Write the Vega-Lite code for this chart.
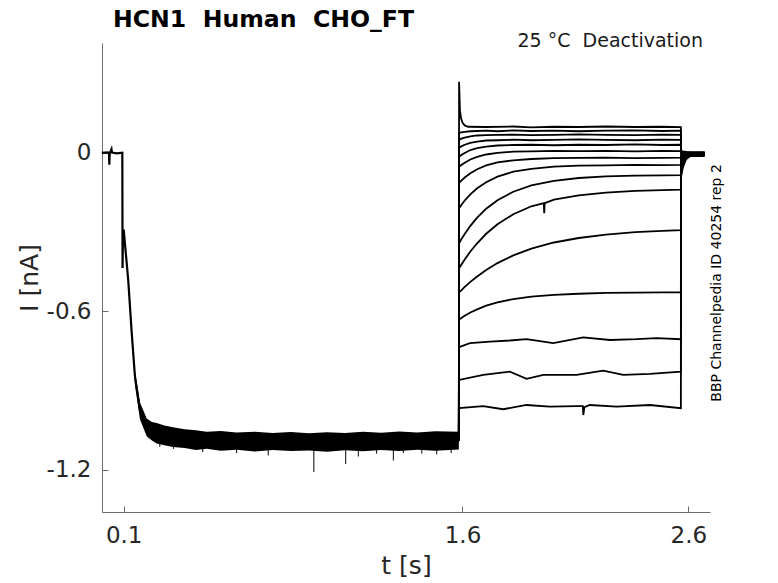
{
  "$schema": "https://vega.github.io/schema/vega-lite/v6.json",
  "width": 608,
  "height": 469,
  "autosize": {"type": "none"},
  "padding": {"left": 102, "top": 43, "right": 68, "bottom": 71},
  "background": "white",
  "title": {
    "text": "HCN1\u00a0\u00a0Human\u00a0\u00a0CHO_FT",
    "anchor": "start",
    "frame": "group",
    "dx": 11,
    "dy": 25,
    "offset": 6,
    "baseline": "alphabetic",
    "font": "DejaVu Sans",
    "fontSize": 23.6,
    "fontWeight": "bold",
    "color": "black"
  },
  "config": {
    "view": {"stroke": null},
    "axis": {
      "grid": false,
      "domainColor": "#6b6b6b",
      "tickColor": "#6b6b6b",
      "tickSize": -6,
      "labelFont": "DejaVu Sans",
      "labelFontSize": 23,
      "labelColor": "#262626",
      "labelFlush": false,
      "labelOverlap": false,
      "labelBound": false,
      "titleFont": "DejaVu Sans",
      "titleFontSize": 25,
      "titleFontWeight": "normal",
      "titleColor": "#262626"
    }
  },
  "datasets": {
    "base": [
      {"t": 0.003, "i": 0.0}, {"t": 0.03, "i": 0.002}, {"t": 0.035, "i": -0.003},
      {"t": 0.0365, "i": -0.045}, {"t": 0.038, "i": -0.002}, {"t": 0.046, "i": 0.014},
      {"t": 0.048, "i": 0.001}, {"t": 0.07, "i": -0.002}, {"t": 0.094, "i": 0.001},
      {"t": 0.095, "i": -0.436}, {"t": 0.097, "i": -0.3}, {"t": 0.1, "i": -0.29},
      {"t": 0.12, "i": -0.48}, {"t": 0.1355, "i": -0.68}, {"t": 0.15, "i": -0.847},
      {"t": 0.172, "i": -0.973}, {"t": 0.202, "i": -1.037}, {"t": 0.246, "i": -1.06},
      {"t": 0.318, "i": -1.08}, {"t": 0.467, "i": -1.09}, {"t": 0.8, "i": -1.092},
      {"t": 1.2, "i": -1.09}, {"t": 1.584, "i": -1.09}
    ],
    "band": [
      {"t": 0.1, "lo": -0.3, "hi": -0.283},
      {"t": 0.12, "lo": -0.497, "hi": -0.468},
      {"t": 0.1355, "lo": -0.7, "hi": -0.664},
      {"t": 0.15, "lo": -0.878, "hi": -0.825},
      {"t": 0.172, "lo": -1.008, "hi": -0.945},
      {"t": 0.202, "lo": -1.072, "hi": -1.005},
      {"t": 0.225, "lo": -1.088, "hi": -1.018},
      {"t": 0.246, "lo": -1.1, "hi": -1.022},
      {"t": 0.28, "lo": -1.106, "hi": -1.032},
      {"t": 0.318, "lo": -1.113, "hi": -1.038},
      {"t": 0.37, "lo": -1.117, "hi": -1.046},
      {"t": 0.42, "lo": -1.124, "hi": -1.05},
      {"t": 0.467, "lo": -1.12, "hi": -1.055},
      {"t": 0.53, "lo": -1.127, "hi": -1.052},
      {"t": 0.6, "lo": -1.123, "hi": -1.058},
      {"t": 0.68, "lo": -1.13, "hi": -1.055},
      {"t": 0.76, "lo": -1.124, "hi": -1.06},
      {"t": 0.84, "lo": -1.128, "hi": -1.056},
      {"t": 0.92, "lo": -1.126, "hi": -1.061},
      {"t": 1.0, "lo": -1.131, "hi": -1.057},
      {"t": 1.08, "lo": -1.125, "hi": -1.06},
      {"t": 1.16, "lo": -1.129, "hi": -1.055},
      {"t": 1.24, "lo": -1.124, "hi": -1.059},
      {"t": 1.32, "lo": -1.128, "hi": -1.054},
      {"t": 1.4, "lo": -1.123, "hi": -1.058},
      {"t": 1.48, "lo": -1.127, "hi": -1.053},
      {"t": 1.584, "lo": -1.122, "hi": -1.055}
    ],
    "spk": [
      {"t": 0.26, "lo": -1.112, "hi": -1.1},
      {"t": 0.32, "lo": -1.12, "hi": -1.1},
      {"t": 0.45, "lo": -1.132, "hi": -1.1},
      {"t": 0.6, "lo": -1.136, "hi": -1.1},
      {"t": 0.74, "lo": -1.145, "hi": -1.1},
      {"t": 0.942, "lo": -1.208, "hi": -1.1},
      {"t": 1.083, "lo": -1.177, "hi": -1.1},
      {"t": 1.139, "lo": -1.149, "hi": -1.1},
      {"t": 1.22, "lo": -1.138, "hi": -1.1},
      {"t": 1.294, "lo": -1.164, "hi": -1.1},
      {"t": 1.338, "lo": -1.136, "hi": -1.1},
      {"t": 1.42, "lo": -1.138, "hi": -1.1},
      {"t": 1.486, "lo": -1.141, "hi": -1.1},
      {"t": 1.55, "lo": -1.136, "hi": -1.1}
    ],
    "sw": [
      {"s": 1, "t": 1.584, "i": -1.09}, {"s": 1, "t": 1.585, "i": 0.269}, {"s": 1, "t": 1.589, "i": 0.16},
      {"s": 1, "t": 1.594, "i": 0.13}, {"s": 1, "t": 1.6, "i": 0.115}, {"s": 1, "t": 1.61, "i": 0.104},
      {"s": 1, "t": 1.625, "i": 0.099}, {"s": 1, "t": 1.705, "i": 0.098}, {"s": 1, "t": 1.825, "i": 0.1},
      {"s": 1, "t": 1.905, "i": 0.097}, {"s": 1, "t": 2.005, "i": 0.099}, {"s": 1, "t": 2.115, "i": 0.098},
      {"s": 1, "t": 2.235, "i": 0.1}, {"s": 1, "t": 2.365, "i": 0.098}, {"s": 1, "t": 2.485, "i": 0.099},
      {"s": 1, "t": 2.567, "i": 0.098}, {"s": 1, "t": 2.568, "i": 0.008}, {"s": 1, "t": 2.576, "i": 0.006},
      {"s": 1, "t": 2.59, "i": 0.004}, {"s": 1, "t": 2.61, "i": 0.003}, {"s": 1, "t": 2.64, "i": 0.002},
      {"s": 1, "t": 2.672, "i": 0.003},

      {"s": 2, "t": 1.584, "i": -1.09}, {"s": 2, "t": 1.585, "i": 0.076}, {"s": 2, "t": 1.595, "i": 0.078},
      {"s": 2, "t": 1.61, "i": 0.08}, {"s": 2, "t": 1.635, "i": 0.082}, {"s": 2, "t": 1.665, "i": 0.083},
      {"s": 2, "t": 1.705, "i": 0.084}, {"s": 2, "t": 1.755, "i": 0.082}, {"s": 2, "t": 1.825, "i": 0.085},
      {"s": 2, "t": 1.905, "i": 0.083}, {"s": 2, "t": 2.005, "i": 0.084}, {"s": 2, "t": 2.115, "i": 0.082},
      {"s": 2, "t": 2.235, "i": 0.084}, {"s": 2, "t": 2.365, "i": 0.085}, {"s": 2, "t": 2.485, "i": 0.083},
      {"s": 2, "t": 2.567, "i": 0.084}, {"s": 2, "t": 2.568, "i": 0.006}, {"s": 2, "t": 2.576, "i": 0.004},
      {"s": 2, "t": 2.59, "i": 0.003}, {"s": 2, "t": 2.61, "i": 0.001}, {"s": 2, "t": 2.64, "i": 0.002},
      {"s": 2, "t": 2.672, "i": 0.001},

      {"s": 3, "t": 1.584, "i": -1.09}, {"s": 3, "t": 1.585, "i": 0.049}, {"s": 3, "t": 1.595, "i": 0.054},
      {"s": 3, "t": 1.61, "i": 0.058}, {"s": 3, "t": 1.635, "i": 0.063}, {"s": 3, "t": 1.665, "i": 0.066},
      {"s": 3, "t": 1.705, "i": 0.067}, {"s": 3, "t": 1.755, "i": 0.068}, {"s": 3, "t": 1.825, "i": 0.069},
      {"s": 3, "t": 1.905, "i": 0.067}, {"s": 3, "t": 2.005, "i": 0.068}, {"s": 3, "t": 2.115, "i": 0.07},
      {"s": 3, "t": 2.235, "i": 0.068}, {"s": 3, "t": 2.365, "i": 0.067}, {"s": 3, "t": 2.485, "i": 0.069},
      {"s": 3, "t": 2.567, "i": 0.068}, {"s": 3, "t": 2.568, "i": 0.004}, {"s": 3, "t": 2.576, "i": 0.003},
      {"s": 3, "t": 2.59, "i": 0.001}, {"s": 3, "t": 2.61, "i": 0.0}, {"s": 3, "t": 2.64, "i": 0.001},
      {"s": 3, "t": 2.672, "i": 0.0},

      {"s": 4, "t": 1.584, "i": -1.09}, {"s": 4, "t": 1.585, "i": 0.019}, {"s": 4, "t": 1.595, "i": 0.025},
      {"s": 4, "t": 1.61, "i": 0.031}, {"s": 4, "t": 1.635, "i": 0.038}, {"s": 4, "t": 1.665, "i": 0.043},
      {"s": 4, "t": 1.705, "i": 0.047}, {"s": 4, "t": 1.755, "i": 0.048}, {"s": 4, "t": 1.825, "i": 0.05},
      {"s": 4, "t": 1.905, "i": 0.048}, {"s": 4, "t": 2.005, "i": 0.049}, {"s": 4, "t": 2.115, "i": 0.051},
      {"s": 4, "t": 2.235, "i": 0.049}, {"s": 4, "t": 2.365, "i": 0.048}, {"s": 4, "t": 2.485, "i": 0.05},
      {"s": 4, "t": 2.567, "i": 0.049}, {"s": 4, "t": 2.568, "i": 0.002}, {"s": 4, "t": 2.576, "i": 0.001},
      {"s": 4, "t": 2.59, "i": 0.0}, {"s": 4, "t": 2.61, "i": -0.001}, {"s": 4, "t": 2.64, "i": 0.0},
      {"s": 4, "t": 2.672, "i": 0.001},

      {"s": 5, "t": 1.584, "i": -1.09}, {"s": 5, "t": 1.585, "i": -0.015}, {"s": 5, "t": 1.595, "i": -0.008},
      {"s": 5, "t": 1.61, "i": 0.0}, {"s": 5, "t": 1.635, "i": 0.011}, {"s": 5, "t": 1.665, "i": 0.018},
      {"s": 5, "t": 1.705, "i": 0.024}, {"s": 5, "t": 1.755, "i": 0.028}, {"s": 5, "t": 1.825, "i": 0.03},
      {"s": 5, "t": 1.905, "i": 0.031}, {"s": 5, "t": 2.005, "i": 0.029}, {"s": 5, "t": 2.115, "i": 0.031},
      {"s": 5, "t": 2.235, "i": 0.03}, {"s": 5, "t": 2.365, "i": 0.032}, {"s": 5, "t": 2.485, "i": 0.03},
      {"s": 5, "t": 2.567, "i": 0.031}, {"s": 5, "t": 2.568, "i": 0.0}, {"s": 5, "t": 2.576, "i": -0.001},
      {"s": 5, "t": 2.59, "i": -0.002}, {"s": 5, "t": 2.61, "i": -0.001}, {"s": 5, "t": 2.64, "i": -0.002},
      {"s": 5, "t": 2.672, "i": -0.001},

      {"s": 6, "t": 1.584, "i": -1.09}, {"s": 6, "t": 1.585, "i": -0.053}, {"s": 6, "t": 1.595, "i": -0.046},
      {"s": 6, "t": 1.61, "i": -0.037}, {"s": 6, "t": 1.635, "i": -0.025}, {"s": 6, "t": 1.665, "i": -0.015},
      {"s": 6, "t": 1.705, "i": -0.006}, {"s": 6, "t": 1.755, "i": 0.0}, {"s": 6, "t": 1.825, "i": 0.005},
      {"s": 6, "t": 1.905, "i": 0.006}, {"s": 6, "t": 2.005, "i": 0.008}, {"s": 6, "t": 2.115, "i": 0.007},
      {"s": 6, "t": 2.235, "i": 0.008}, {"s": 6, "t": 2.365, "i": 0.006}, {"s": 6, "t": 2.485, "i": 0.008},
      {"s": 6, "t": 2.567, "i": 0.007}, {"s": 6, "t": 2.568, "i": -0.003}, {"s": 6, "t": 2.576, "i": -0.003},
      {"s": 6, "t": 2.59, "i": -0.003}, {"s": 6, "t": 2.61, "i": -0.002}, {"s": 6, "t": 2.64, "i": -0.003},
      {"s": 6, "t": 2.672, "i": -0.002},

      {"s": 7, "t": 1.584, "i": -1.09}, {"s": 7, "t": 1.585, "i": -0.114}, {"s": 7, "t": 1.595, "i": -0.105},
      {"s": 7, "t": 1.61, "i": -0.093}, {"s": 7, "t": 1.635, "i": -0.077}, {"s": 7, "t": 1.665, "i": -0.062},
      {"s": 7, "t": 1.705, "i": -0.047}, {"s": 7, "t": 1.755, "i": -0.036}, {"s": 7, "t": 1.825, "i": -0.028},
      {"s": 7, "t": 1.905, "i": -0.023}, {"s": 7, "t": 2.005, "i": -0.02}, {"s": 7, "t": 2.115, "i": -0.019},
      {"s": 7, "t": 2.235, "i": -0.018}, {"s": 7, "t": 2.365, "i": -0.02}, {"s": 7, "t": 2.485, "i": -0.019},
      {"s": 7, "t": 2.567, "i": -0.018}, {"s": 7, "t": 2.568, "i": -0.006}, {"s": 7, "t": 2.576, "i": -0.005},
      {"s": 7, "t": 2.59, "i": -0.004}, {"s": 7, "t": 2.61, "i": -0.003}, {"s": 7, "t": 2.64, "i": -0.004},
      {"s": 7, "t": 2.672, "i": -0.003},

      {"s": 8, "t": 1.584, "i": -1.09}, {"s": 8, "t": 1.585, "i": -0.209}, {"s": 8, "t": 1.595, "i": -0.197},
      {"s": 8, "t": 1.61, "i": -0.18}, {"s": 8, "t": 1.635, "i": -0.157}, {"s": 8, "t": 1.665, "i": -0.134},
      {"s": 8, "t": 1.705, "i": -0.111}, {"s": 8, "t": 1.755, "i": -0.09}, {"s": 8, "t": 1.825, "i": -0.071},
      {"s": 8, "t": 1.905, "i": -0.06}, {"s": 8, "t": 2.005, "i": -0.052}, {"s": 8, "t": 2.115, "i": -0.048},
      {"s": 8, "t": 2.235, "i": -0.047}, {"s": 8, "t": 2.365, "i": -0.045}, {"s": 8, "t": 2.485, "i": -0.046},
      {"s": 8, "t": 2.567, "i": -0.045}, {"s": 8, "t": 2.568, "i": -0.01}, {"s": 8, "t": 2.576, "i": -0.007},
      {"s": 8, "t": 2.59, "i": -0.005}, {"s": 8, "t": 2.61, "i": -0.004}, {"s": 8, "t": 2.64, "i": -0.005},
      {"s": 8, "t": 2.672, "i": -0.004},

      {"s": 9, "t": 1.584, "i": -1.09}, {"s": 9, "t": 1.585, "i": -0.342}, {"s": 9, "t": 1.595, "i": -0.327},
      {"s": 9, "t": 1.61, "i": -0.307}, {"s": 9, "t": 1.635, "i": -0.276}, {"s": 9, "t": 1.665, "i": -0.245},
      {"s": 9, "t": 1.705, "i": -0.211}, {"s": 9, "t": 1.755, "i": -0.179}, {"s": 9, "t": 1.825, "i": -0.147},
      {"s": 9, "t": 1.905, "i": -0.123}, {"s": 9, "t": 2.005, "i": -0.106}, {"s": 9, "t": 2.115, "i": -0.095},
      {"s": 9, "t": 2.235, "i": -0.089}, {"s": 9, "t": 2.365, "i": -0.086}, {"s": 9, "t": 2.485, "i": -0.085},
      {"s": 9, "t": 2.567, "i": -0.084}, {"s": 9, "t": 2.568, "i": -0.018}, {"s": 9, "t": 2.576, "i": -0.011},
      {"s": 9, "t": 2.59, "i": -0.007}, {"s": 9, "t": 2.61, "i": -0.005}, {"s": 9, "t": 2.64, "i": -0.006},
      {"s": 9, "t": 2.672, "i": -0.005},

      {"s": 10, "t": 1.584, "i": -1.09}, {"s": 10, "t": 1.585, "i": -0.437}, {"s": 10, "t": 1.595, "i": -0.423},
      {"s": 10, "t": 1.61, "i": -0.403}, {"s": 10, "t": 1.635, "i": -0.373}, {"s": 10, "t": 1.665, "i": -0.342},
      {"s": 10, "t": 1.705, "i": -0.306}, {"s": 10, "t": 1.755, "i": -0.27}, {"s": 10, "t": 1.825, "i": -0.232},
      {"s": 10, "t": 1.905, "i": -0.202}, {"s": 10, "t": 1.96, "i": -0.19}, {"s": 10, "t": 1.962, "i": -0.228},
      {"s": 10, "t": 1.964, "i": -0.19}, {"s": 10, "t": 2.005, "i": -0.177}, {"s": 10, "t": 2.115, "i": -0.161},
      {"s": 10, "t": 2.235, "i": -0.15}, {"s": 10, "t": 2.365, "i": -0.144}, {"s": 10, "t": 2.485, "i": -0.141},
      {"s": 10, "t": 2.567, "i": -0.139}, {"s": 10, "t": 2.568, "i": -0.028}, {"s": 10, "t": 2.576, "i": -0.017},
      {"s": 10, "t": 2.59, "i": -0.009}, {"s": 10, "t": 2.61, "i": -0.006}, {"s": 10, "t": 2.64, "i": -0.007},
      {"s": 10, "t": 2.672, "i": -0.006},

      {"s": 11, "t": 1.584, "i": -1.09}, {"s": 11, "t": 1.585, "i": -0.528}, {"s": 11, "t": 1.595, "i": -0.52},
      {"s": 11, "t": 1.61, "i": -0.507}, {"s": 11, "t": 1.635, "i": -0.488}, {"s": 11, "t": 1.665, "i": -0.468},
      {"s": 11, "t": 1.705, "i": -0.443}, {"s": 11, "t": 1.755, "i": -0.417}, {"s": 11, "t": 1.825, "i": -0.388},
      {"s": 11, "t": 1.905, "i": -0.362}, {"s": 11, "t": 2.005, "i": -0.339}, {"s": 11, "t": 2.115, "i": -0.322},
      {"s": 11, "t": 2.235, "i": -0.309}, {"s": 11, "t": 2.365, "i": -0.3}, {"s": 11, "t": 2.485, "i": -0.295},
      {"s": 11, "t": 2.567, "i": -0.292}, {"s": 11, "t": 2.568, "i": -0.04}, {"s": 11, "t": 2.576, "i": -0.024},
      {"s": 11, "t": 2.59, "i": -0.012}, {"s": 11, "t": 2.61, "i": -0.007}, {"s": 11, "t": 2.64, "i": -0.008},
      {"s": 11, "t": 2.672, "i": -0.007},

      {"s": 12, "t": 1.584, "i": -1.09}, {"s": 12, "t": 1.585, "i": -0.63}, {"s": 12, "t": 1.595, "i": -0.625},
      {"s": 12, "t": 1.61, "i": -0.616}, {"s": 12, "t": 1.635, "i": -0.604}, {"s": 12, "t": 1.665, "i": -0.592},
      {"s": 12, "t": 1.705, "i": -0.578}, {"s": 12, "t": 1.755, "i": -0.566}, {"s": 12, "t": 1.825, "i": -0.553},
      {"s": 12, "t": 1.905, "i": -0.544}, {"s": 12, "t": 2.005, "i": -0.537}, {"s": 12, "t": 2.115, "i": -0.533},
      {"s": 12, "t": 2.235, "i": -0.53}, {"s": 12, "t": 2.365, "i": -0.529}, {"s": 12, "t": 2.485, "i": -0.528},
      {"s": 12, "t": 2.567, "i": -0.528}, {"s": 12, "t": 2.568, "i": -0.052}, {"s": 12, "t": 2.576, "i": -0.031},
      {"s": 12, "t": 2.59, "i": -0.015}, {"s": 12, "t": 2.61, "i": -0.008}, {"s": 12, "t": 2.64, "i": -0.009},
      {"s": 12, "t": 2.672, "i": -0.008},

      {"s": 13, "t": 1.584, "i": -1.09}, {"s": 13, "t": 1.585, "i": -0.735}, {"s": 13, "t": 1.633, "i": -0.72},
      {"s": 13, "t": 1.722, "i": -0.714}, {"s": 13, "t": 1.81, "i": -0.71}, {"s": 13, "t": 1.884, "i": -0.705},
      {"s": 13, "t": 2.002, "i": -0.72}, {"s": 13, "t": 2.135, "i": -0.698}, {"s": 13, "t": 2.253, "i": -0.708},
      {"s": 13, "t": 2.371, "i": -0.705}, {"s": 13, "t": 2.459, "i": -0.701}, {"s": 13, "t": 2.567, "i": -0.705},
      {"s": 13, "t": 2.568, "i": -0.065}, {"s": 13, "t": 2.576, "i": -0.039}, {"s": 13, "t": 2.59, "i": -0.018},
      {"s": 13, "t": 2.61, "i": -0.009}, {"s": 13, "t": 2.64, "i": -0.01}, {"s": 13, "t": 2.672, "i": -0.009},

      {"s": 14, "t": 1.584, "i": -1.09}, {"s": 14, "t": 1.585, "i": -0.859}, {"s": 14, "t": 1.692, "i": -0.84},
      {"s": 14, "t": 1.81, "i": -0.828}, {"s": 14, "t": 1.884, "i": -0.855}, {"s": 14, "t": 1.958, "i": -0.84},
      {"s": 14, "t": 2.105, "i": -0.84}, {"s": 14, "t": 2.223, "i": -0.824}, {"s": 14, "t": 2.312, "i": -0.84},
      {"s": 14, "t": 2.43, "i": -0.836}, {"s": 14, "t": 2.567, "i": -0.828},
      {"s": 14, "t": 2.568, "i": -0.078}, {"s": 14, "t": 2.576, "i": -0.047}, {"s": 14, "t": 2.59, "i": -0.021},
      {"s": 14, "t": 2.61, "i": -0.01}, {"s": 14, "t": 2.64, "i": -0.011}, {"s": 14, "t": 2.672, "i": -0.01},

      {"s": 15, "t": 1.584, "i": -1.09}, {"s": 15, "t": 1.585, "i": -0.966}, {"s": 15, "t": 1.692, "i": -0.958},
      {"s": 15, "t": 1.78, "i": -0.97}, {"s": 15, "t": 1.884, "i": -0.954}, {"s": 15, "t": 1.987, "i": -0.96},
      {"s": 15, "t": 2.105, "i": -0.958}, {"s": 15, "t": 2.133, "i": -0.958}, {"s": 15, "t": 2.135, "i": -0.992},
      {"s": 15, "t": 2.14, "i": -0.962}, {"s": 15, "t": 2.164, "i": -0.954}, {"s": 15, "t": 2.282, "i": -0.96},
      {"s": 15, "t": 2.43, "i": -0.954}, {"s": 15, "t": 2.567, "i": -0.966},
      {"s": 15, "t": 2.568, "i": -0.09}, {"s": 15, "t": 2.576, "i": -0.054}, {"s": 15, "t": 2.59, "i": -0.024},
      {"s": 15, "t": 2.61, "i": -0.011}, {"s": 15, "t": 2.64, "i": -0.012}, {"s": 15, "t": 2.672, "i": -0.011}
    ],
    "notes": [
      {"t": 2.665, "i": 0.401, "label": "25 °C\u00a0\u00a0Deactivation"}
    ],
    "side": [
      {"t": 2.729, "i": -0.492, "label": "BBP Channelpedia ID 40254 rep 2"}
    ]
  },
  "encoding": {
    "x": {
      "field": "t",
      "type": "quantitative",
      "title": "t [s]",
      "scale": {"domain": [0.004, 2.696], "nice": false, "zero": false},
      "axis": {
        "values": [0.1, 1.6, 2.6],
        "labelExpr": "toString(datum.value)",
        "labelPadding": 18,
        "titlePadding": 6
      }
    }
  },
  "layer": [
    {
      "data": {"name": "band"},
      "mark": {"type": "area", "color": "black"},
      "encoding": {
        "y": {
          "field": "lo",
          "type": "quantitative",
          "title": "I [nA]",
          "scale": {"domain": [-1.359, 0.416], "nice": false, "zero": false},
          "axis": {
            "values": [0, -0.6, -1.2],
            "labelExpr": "toString(datum.value)",
            "labelPadding": 17,
            "titlePadding": 4
          }
        },
        "y2": {"field": "hi"}
      }
    },
    {
      "data": {"name": "base"},
      "mark": {"type": "line", "color": "black", "strokeWidth": 2.2},
      "encoding": {
        "y": {"field": "i", "type": "quantitative", "title": "I [nA]"}
      }
    },
    {
      "data": {"name": "spk"},
      "mark": {"type": "rule", "color": "black", "strokeWidth": 1},
      "encoding": {
        "y": {"field": "lo", "type": "quantitative", "title": "I [nA]"},
        "y2": {"field": "hi"}
      }
    },
    {
      "data": {"name": "sw"},
      "mark": {"type": "line", "color": "black", "strokeWidth": 1.8},
      "encoding": {
        "y": {"field": "i", "type": "quantitative", "title": "I [nA]"},
        "detail": {"field": "s", "type": "nominal"}
      }
    },
    {
      "data": {"name": "notes"},
      "mark": {"type": "text", "align": "right", "baseline": "alphabetic", "font": "DejaVu Sans", "fontSize": 19, "color": "#1a1a1a"},
      "encoding": {
        "y": {"field": "i", "type": "quantitative", "title": "I [nA]"},
        "text": {"field": "label"}
      }
    },
    {
      "data": {"name": "side"},
      "mark": {"type": "text", "align": "center", "baseline": "middle", "angle": 270, "font": "DejaVu Sans", "fontSize": 14, "color": "black"},
      "encoding": {
        "y": {"field": "i", "type": "quantitative", "title": "I [nA]"},
        "text": {"field": "label"}
      }
    }
  ]
}
